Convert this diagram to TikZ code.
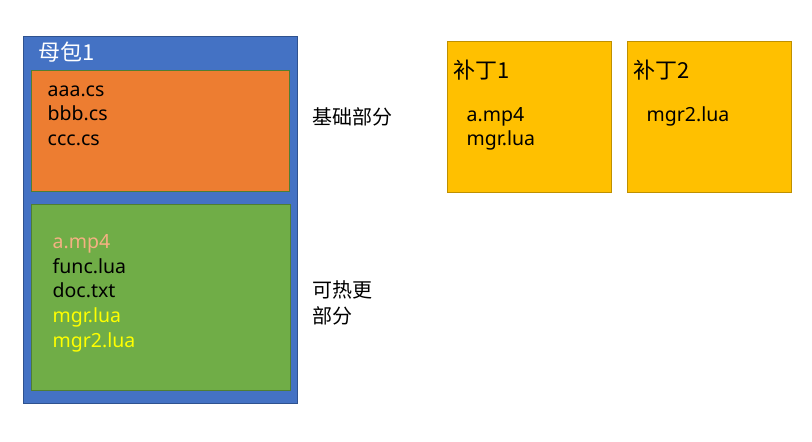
\documentclass[tikz,border=0pt]{standalone}
\usepackage{fontspec}
\setmainfont{Noto Sans CJK SC}
\newfontfamily\filefont{Noto Sans}
\usepackage{tikz}
\usetikzlibrary{positioning}

\definecolor{pkgblue}{HTML}{4472C4}
\definecolor{pkgedge}{HTML}{2F528F}
\definecolor{baseorange}{HTML}{ED7D31}
\definecolor{hotgreen}{HTML}{70AD47}
\definecolor{hotedge}{HTML}{507E32}
\definecolor{patchgold}{HTML}{FFC000}
\definecolor{patchedge}{HTML}{BF9000}
\definecolor{mp4salmon}{HTML}{F4B183}
\definecolor{mgryellow}{HTML}{FFFF00}

\tikzset{
    box/.style={draw, line width=1pt, rectangle, inner sep=0pt},
    fname/.style={inner sep=0pt, text height=14pt, text depth=4pt,
        font=\filefont\fontsize{19.5}{24}\selectfont},
    label/.style={inner sep=0pt, anchor=west, font=\fontsize{20}{24}\selectfont},
    title/.style={label, font=\fontsize{22}{26}\selectfont},
}

\begin{document}
\begin{tikzpicture}[x=1pt, y=1pt]
    \useasboundingbox (0,0) rectangle (812,442);
    % boxes
    \node[box, draw=pkgedge, fill=pkgblue, minimum width=274pt, minimum height=367pt] (pkg) at (160,221.5) {};
    \node[box, draw=hotedge, fill=baseorange, minimum width=258pt, minimum height=121pt] (base) at (160,310.5) {};
    \node[box, draw=hotedge, fill=hotgreen, minimum width=259pt, minimum height=186pt] (hot) at (160.5,144) {};
    \node[box, draw=patchedge, fill=patchgold, minimum width=164pt, minimum height=151pt] (patchA) at (529,324.5) {};
    \node[box, draw=patchedge, fill=patchgold, minimum width=164pt, minimum height=151pt] (patchB) at (709,324.5) {};

    % titles
    \node[title, text=white, below right=16pt and 16pt of pkg.north west, anchor=west] (pkgtitle) {母包1};
    \node[title, below right=29pt and 7pt of patchA.north west, anchor=west] (patchAtitle) {补丁1};
    \node[title, below right=29pt and 7pt of patchB.north west, anchor=west] (patchBtitle) {补丁2};

    % base part
    \node[fname, below right=21pt and 17pt of base.north west, anchor=west] (aaa) {aaa.cs};
    \node[fname, below=24.5pt of aaa.west, anchor=west] (bbb) {bbb.cs};
    \node[fname, below=24.5pt of bbb.west, anchor=west] (ccc) {ccc.cs};
    \node[label, below right=46pt and 23pt of base.north east, anchor=west] (baselabel) {基础部分};

    % hot update part
    \node[fname, text=mp4salmon, below right=39pt and 22pt of hot.north west, anchor=west] (mp4) {a.mp4};
    \node[fname, below=24.7pt of mp4.west, anchor=west] (func) {func.lua};
    \node[fname, below=24.7pt of func.west, anchor=west] (doc) {doc.txt};
    \node[fname, text=mgryellow, below=24.7pt of doc.west, anchor=west] (mgr) {mgr.lua};
    \node[fname, text=mgryellow, below=24.7pt of mgr.west, anchor=west] (mgrb) {mgr2.lua};
    \node[label, below right=85pt and 22pt of hot.north east, anchor=west] (hotlabel) {可热更};
    \node[label, below=26pt of hotlabel.west, anchor=west] (hotlabelb) {部分};

    % patches
    \node[fname, below right=75pt and 20pt of patchA.north west, anchor=west] (patchAmp4) {a.mp4};
    \node[fname, below=24.5pt of patchAmp4.west, anchor=west] (patchAmgr) {mgr.lua};
    \node[fname, below right=75pt and 20pt of patchB.north west, anchor=west] (patchBmgr) {mgr2.lua};
\end{tikzpicture}
\end{document}
